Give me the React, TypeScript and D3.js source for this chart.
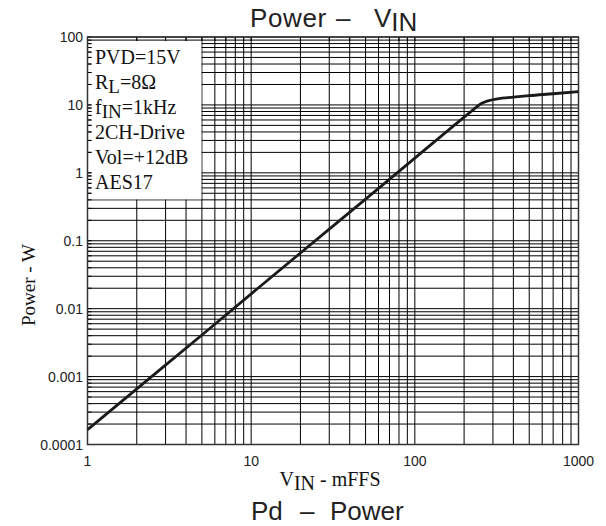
import React from "react";
import * as d3 from "d3";

const vin = [1, 2, 5, 10, 20, 50, 100, 200, 230, 255, 280, 320, 400, 500, 700, 1000];
const power = [0.000165, 0.00066, 0.0041, 0.0165, 0.066, 0.41, 1.65, 6.6, 8.7, 10.5, 11.5, 12.3, 13.0, 13.7, 14.6, 15.7];

const xTicks = [1, 10, 100, 1000];
const xTickLabels = ["1", "10", "100", "1000"];
const yTicks = [0.0001, 0.001, 0.01, 0.1, 1, 10, 100];
const yTickLabels = ["0.0001", "0.001", "0.01", "0.1", "1", "10", "100"];
const legendLines = ["PVD=15V", "R|L|=8Ω", "f|IN|=1kHz", "2CH-Drive", "Vol=+12dB", "AES17"];

const W = 606, H = 526;
const X0 = 87.5, X1 = 578.5, Y0 = 37, Y1 = 444.5;

function minorValues(min: number, max: number) {
  const out: number[] = [];
  for (let d = min; d < max; d *= 10) {
    for (let k = 1; k <= 9; k++) out.push(d * k);
  }
  out.push(max);
  return out;
}

export default function App() {
  const x = d3.scaleLog().domain([1, 1000]).range([X0, X1]);
  const y = d3.scaleLog().domain([0.0001, 100]).range([Y1, Y0]);
  const xs = minorValues(1, 1000);
  const ys = minorValues(0.0001, 100);
  const line = d3
    .line<number>()
    .x((_, i) => x(vin[i]))
    .y((d) => y(d))
    .curve(d3.curveMonotoneX);

  const boxR = x(5) - 0.5;
  const boxB = y(0.4) - 0.5;
  const sans = "'Liberation Sans', Arial, sans-serif";
  const serif = "'Liberation Serif', 'Times New Roman', serif";

  return (
    <svg width={W} height={H} style={{ position: "absolute", left: 0, top: 0 }}>
      <rect x={0} y={0} width={W} height={H} fill="#fff" />
      {/* grid */}
      {xs.map((v, i) => (
        <line key={"gx" + i} x1={x(v)} x2={x(v)} y1={Y0} y2={Y1} stroke="#000" strokeWidth={1} />
      ))}
      {ys.map((v, i) => (
        <line key={"gy" + i} x1={X0} x2={X1} y1={y(v)} y2={y(v)} stroke="#000" strokeWidth={1} />
      ))}
      {/* legend box */}
      <rect x={X0 + 4} y={Y0 + 4} width={boxR - X0 - 4} height={boxB - Y0 - 4} fill="#fff" />
      {ys.map((v, i) => (
        <line key={"ty" + i} x1={X0} x2={X0 + 4} y1={y(v)} y2={y(v)} stroke="#000" strokeWidth={1} />
      ))}
      {xs.map((v, i) => (
        <line key={"tx" + i} x1={x(v)} x2={x(v)} y1={Y0} y2={Y0 + 4} stroke="#000" strokeWidth={1} />
      ))}
      {legendLines.map((t, i) => {
        const parts = t.split("|");
        return (
          <text key={"lg" + i} x={95} y={64 + i * 25} fontFamily={serif} fontSize={20} fill="#111">
            {parts.length === 1 ? (
              t
            ) : (
              <>
                {parts[0]}
                <tspan dy={4} fontSize={19}>{parts[1]}</tspan>
                <tspan dy={-4}>{parts[2]}</tspan>
              </>
            )}
          </text>
        );
      })}
      {/* frame */}
      <rect x={X0} y={Y0} width={X1 - X0} height={Y1 - Y0} fill="none" stroke="#333" strokeWidth={1.5} />
      {/* curve */}
      <path d={line(power) || ""} fill="none" stroke="#1a1a1a" strokeWidth={2.8} strokeLinejoin="round" />
      {/* tick labels */}
      {yTicks.map((v, i) => (
        <text key={"yl" + i} x={83} y={y(v)} dy="0.36em" textAnchor="end" fontFamily={sans} fontSize={14} fill="#222">
          {yTickLabels[i]}
        </text>
      ))}
      {xTicks.map((v, i) => (
        <text key={"xl" + i} x={x(v)} y={466} textAnchor="middle" fontFamily={sans} fontSize={14} fill="#222">
          {xTickLabels[i]}
        </text>
      ))}
      {/* axis titles */}
      <text x={330} y={486} textAnchor="middle" fontFamily={serif} fontSize={20} fill="#111">
        V<tspan dy={4}>IN</tspan>
        <tspan dy={-4}> - mFFS</tspan>
      </text>
      <text transform={`translate(35,285) rotate(-90)`} textAnchor="middle" fontFamily={serif} fontSize={19} fill="#111">
        Power - W
      </text>
      <g fontFamily={sans} fontSize={26} fill="#222">
        <text x={250} y={27} letterSpacing={0.6}>Power</text>
        <text x={336} y={27}>–</text>
        <text x={374} y={27}>
          V<tspan dy={4}>IN</tspan>
        </text>
        <text x={251} y={520}>Pd</text>
        <text x={300} y={520}>–</text>
        <text x={330} y={520}>Power</text>
      </g>
    </svg>
  );
}
